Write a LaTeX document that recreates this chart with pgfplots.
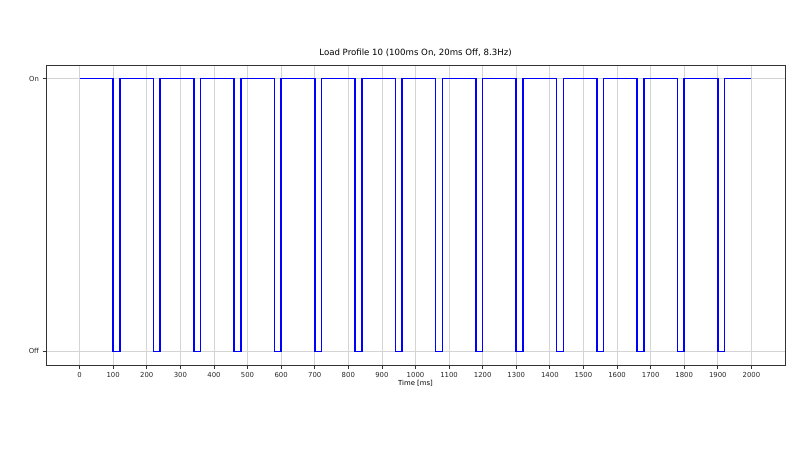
\documentclass[border=0pt]{standalone}
\usepackage{pgfplots}
\pgfplotsset{compat=1.18}
\usepackage{fontspec}
\setmainfont{DejaVu Sans}
\begin{document}
\begin{tikzpicture}[x=1pt,y=1pt]
\path[use as bounding box] (0,0) rectangle (800,450);
\begin{axis}[
  at={(46pt,85pt)}, anchor=south west,
  scale only axis, width=739pt, height=300pt,
  xmin=-100, xmax=2100, ymin=-0.05, ymax=1.05,
  xtick={0,100,...,2000},
  ytick={0,1}, yticklabels={Off,On},
  grid=major,
  major grid style={line width=0.8pt, draw=black!17},
  axis line style={line width=0.8pt, draw=black!80},
  tick style={line width=0.8pt, draw=black!80},
  tick align=outside, tick pos=left,
  major tick length=3.5pt,
  ticklabel style={font=\fontsize{6.9}{7}\selectfont, text=black!85},
  /pgf/number format/assume math mode=true,
  /pgf/number format/1000 sep={},
  title={Load Profile 10 (100ms On, 20ms Off, 8.3Hz)},
  title style={font=\fontsize{8.6}{9}\selectfont, at={(axis description cs:0.5,1)}, anchor=base, yshift=3.5pt, inner sep=0pt},
  xlabel={Time [ms]},
  xlabel style={font=\fontsize{6.9}{7}\selectfont, at={(axis description cs:0.5,0)}, anchor=base, yshift=-20.5pt, inner sep=0pt},
]
\addplot[blue, line width=1.6pt] coordinates {
(0,1) (100,1) (100,0) (120,0) (120,1)
(220,1) (220,0) (240,0) (240,1)
(340,1) (340,0) (360,0) (360,1)
(460,1) (460,0) (480,0) (480,1)
(580,1) (580,0) (600,0) (600,1)
(700,1) (700,0) (720,0) (720,1)
(820,1) (820,0) (840,0) (840,1)
(940,1) (940,0) (960,0) (960,1)
(1060,1) (1060,0) (1080,0) (1080,1)
(1180,1) (1180,0) (1200,0) (1200,1)
(1300,1) (1300,0) (1320,0) (1320,1)
(1420,1) (1420,0) (1440,0) (1440,1)
(1540,1) (1540,0) (1560,0) (1560,1)
(1660,1) (1660,0) (1680,0) (1680,1)
(1780,1) (1780,0) (1800,0) (1800,1)
(1900,1) (1900,0) (1920,0) (1920,1)
(2000,1)
};
\end{axis}
\end{tikzpicture}
\end{document}
